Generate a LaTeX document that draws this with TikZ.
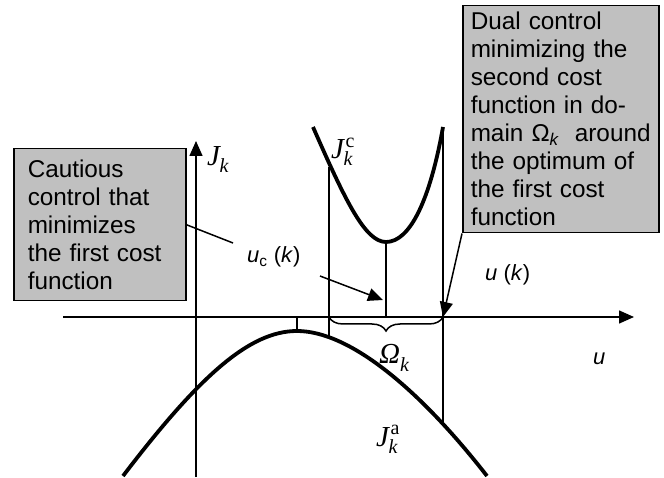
\documentclass[tikz,border=0pt]{standalone}
\usepackage{fontspec}
\usepackage{amsmath}
\setmainfont{Liberation Sans}
\newfontfamily\tnr{Liberation Serif}
\usetikzlibrary{arrows.meta,decorations.pathreplacing}
\definecolor{boxgray}{HTML}{C0C0C0}
\newcommand\jlab[1]{{\tnr\itshape J}\rlap{\kern1.5pt\raisebox{11.5pt}{\fontsize{20}{20}\selectfont\tnr #1}}\kern-0.5pt\raisebox{-7pt}{\fontsize{20}{20}\selectfont\tnr\itshape k}}
\begin{document}
\begin{tikzpicture}[x=1pt,y=-1pt,
  thinline/.style={line width=1.5pt},
  curve/.style={line width=3.8pt},
  arr/.style={thinline,-{Triangle[length=15pt,width=13pt]}},
  txtbox/.style={draw, line width=1.5pt, fill=boxgray, anchor=north west, align=left,
     font=\fontsize{24.3}{28}\selectfont, inner ysep=0pt},
  mlab/.style={anchor=base west, inner sep=0pt, font=\fontsize{29}{32}\selectfont},
  slab/.style={anchor=base west, inner sep=0pt, font=\fontsize{22}{26}\selectfont}]
\useasboundingbox (0,0) rectangle (664,478);
% axes
\coordinate (xs) at (63,317);
\coordinate (xe) at (634,317);
\coordinate (ys) at (196,477);
\coordinate (ye) at (196,141);
\draw[arr] (xs) -- (xe);
\draw[arr] (ys) -- (ye);
% lower curve J^a
\coordinate (la) at (123,476);
\coordinate (lp) at (297,331);
\coordinate (lb) at (487,476);
\draw[curve] (la) .. controls (200,375) and (250,331) .. (lp)
                  .. controls (350,331) and (420,390) .. (lb);
% upper curve J^c
\coordinate (ua) at (313,127);
\coordinate (up) at (386,242);
\coordinate (ub) at (443,127);
\draw[curve] (ua) .. controls (345,200) and (365,242) .. (up)
                  .. controls (410,242) and (430,200) .. (ub);
% vertical lines
\coordinate (a1) at (329,167); \coordinate (a2) at (329,336);
\coordinate (b1) at (386,242); \coordinate (b2) at (386,317);
\coordinate (c1) at (443,129); \coordinate (c2) at (443,423);
\coordinate (d1) at (297,317); \coordinate (d2) at (297,330);
\draw[thinline] (a1) -- (a2);
\draw[thinline] (b1) -- (b2);
\draw[thinline] (c1) -- (c2);
\draw[thinline] (d1) -- (d2);
% brace
\coordinate (br1) at (329,317); \coordinate (br2) at (443,317);
\draw[thinline, decorate, decoration={brace, mirror, amplitude=14pt}] (br1) -- (br2);
% boxes
\node[txtbox, text width=144pt, inner xsep=14pt, minimum height=152pt] (lbox) at (13,148)
  {Cautious\\control that\\minimizes\\the first cost\\function};
\node[txtbox, text width=180pt, inner xsep=8pt, minimum height=227pt] (rbox) at (462,5)
  {Dual control\\minimizing the\\second cost\\function in do-\\main Ω\textsubscript{\itshape k}\ \ around\\the optimum of\\the first cost\\function};
% labels
\node[mlab] (jk) at (207,166) {\jlab{}};
\node[mlab] (jkc) at (331,159) {\jlab{c}};
\node[mlab] (jka) at (376,446) {\jlab{a}};
\node[mlab] (om) at (379,363) {{\tnr\itshape Ω}\raisebox{-8pt}{\fontsize{20}{20}\selectfont\tnr\itshape k}};
\node[slab] (ul) at (593,364) {\itshape u};
\node[slab] (uk) at (485,281) {\textit{u} (\textit{k})};
\node[slab] (uck) at (247,263) {\textit{u}\textsubscript{c} (\textit{k})};
% connectors
\coordinate (lend) at (233,243);
\draw[thinline] (lbox.east) -- (lend);
\coordinate (ucs) at (320,276);
\coordinate (uce) at (383,300);
\draw[arr] (ucs) -- (uce);
\draw[arr] (rbox.south west) -- (br2);
\end{tikzpicture}
\end{document}
